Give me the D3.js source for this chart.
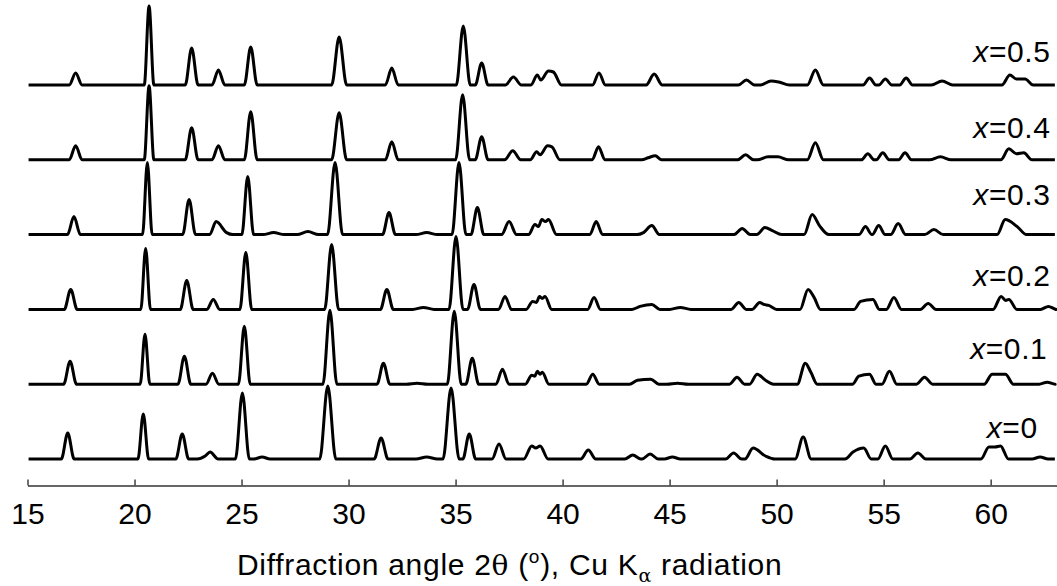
<!DOCTYPE html>
<html>
<head>
<meta charset="utf-8">
<script src="https://cdnjs.cloudflare.com/ajax/libs/d3/7.8.5/d3.min.js"></script>
<style>
  body { margin: 0; background: #fff; }
  svg text { font-family: "Liberation Sans", Arial, sans-serif; fill: #000; }
</style>
</head>
<body>
<div id="chart"></div>
<script>
// XRD patterns, peaks: [2theta, intensity (a.u.), half base width (deg, optional)]
let sampleLabels = ["0", "0.1", "0.2", "0.3", "0.4", "0.5"];
let angleTicks = [15, 20, 25, 30, 35, 40, 45, 50, 55, 60];
let angleRange = [15.05, 63.0];

let peaksX00 = [[16.88,26,0.24],[20.41,45,0.2],[22.23,25,0.24],[23.3,3,0.3],[23.53,7,0.3],[25.04,66,0.26],[25.96,2,0.3],
  [29.03,73,0.3],[31.52,21,0.26],[33.65,2,0.4],[34.79,71,0.3],[35.64,25,0.24],[37.03,15,0.26],[38.56,13,0.3],[38.75,11],
  [38.95,13,0.3],[41.2,9,0.28],[43.28,4,0.3],[44.09,5,0.3],[45.13,2,0.3],[47.99,6,0.3],[48.9,11,0.3],[49.48,3,0.35],
  [51.24,22,0.3],[53.57,7,0.3],[54.07,11,0.28],[55.08,13,0.28],[56.6,6,0.3],[59.92,12,0.3],[60.2,12],[60.46,13,0.3],[62.31,2,0.3]];
let peaksX01 = [[16.99,23],[20.49,50,0.18],[22.33,28],[23.64,11],[25.13,58,0.22],[29.13,74,0.26],[31.63,21],[33.2,1,0.4],
  [34.94,73,0.26],[35.78,26],[37.19,15],[38.56,9],[38.7,8],[38.82,13],[38.95,10],[39.05,12,0.25],[41.41,10],[43.5,4,0.3],
  [44.12,5,0.3],[45.37,1,0.4],[48.15,7,0.28],[49.09,10,0.28],[49.48,4,0.3],[51.34,21,0.3],[51.6,12],[53.84,8],[54.34,10],
  [55.27,13,0.28],[56.91,7,0.3],[60.07,10,0.3],[60.4,10],[60.69,10,0.3],[62.64,2,0.3]];
let peaksX02 = [[17.02,20],[20.52,61,0.18],[22.44,29],[23.68,10],[25.2,57,0.22],[29.21,65,0.26],[31.79,20],[33.5,2,0.4],
  [35.02,73,0.26],[35.86,25],[37.31,13],[38.6,8],[38.78,7],[38.92,13],[39.05,11],[39.18,13,0.25],[41.47,12],[43.62,3,0.3],
  [44.17,5,0.3],[45.5,2,0.4],[48.23,7,0.28],[49.21,7,0.28],[49.4,5],[49.63,4,0.3],[51.47,20,0.3],[51.75,12],[53.92,8],
  [54.5,10],[55.48,12,0.28],[57.08,6,0.3],[60.49,13,0.3],[60.7,9],[60.85,10,0.3],[62.7,3,0.3]];
let peaksX03 = [[17.17,18],[20.6,72,0.18],[22.55,35],[23.81,13],[24.3,2],[25.29,58,0.22],[26.5,2,0.4],[28.1,3,0.4],
  [29.37,72,0.28],[31.89,22],[33.65,2,0.4],[35.16,72,0.26],[36.02,27],[37.5,13,0.28],[38.71,10],[38.87,8],[39.03,15],
  [39.2,13],[39.34,15,0.3],[41.57,13],[43.78,2],[44.17,9,0.28],[48.39,6,0.3],[49.45,7,0.3],[49.8,4,0.35],[51.66,20,0.3],
  [52.0,9,0.35],[54.15,8],[54.77,9],[55.68,11,0.28],[57.35,5,0.35],[60.68,15,0.3],[61.24,8,0.35]];
let peaksX04 = [[17.25,14],[20.68,74,0.18],[22.67,32],[23.92,14],[25.43,48],[29.56,47,0.28],[32.02,18],[35.33,65,0.26],
  [36.22,23],[37.67,9,0.3],[38.79,8],[38.95,5],[39.3,14],[39.5,13,0.3],[41.68,13],[44.0,2],[44.33,4],[48.55,5,0.3],
  [49.6,3,0.4],[50.06,3,0.4],[51.81,17,0.3],[54.26,6],[54.96,7],[56.0,7],[57.65,3,0.4],[60.85,11,0.3],[61.2,6],[61.55,7,0.3]];
let peaksX05 = [[17.25,12],[20.68,79,0.18],[22.67,37],[23.92,15],[25.43,38],[29.56,48,0.28],[32.02,17],[35.36,59,0.26],
  [36.22,22],[37.70,8,0.3],[38.82,10],[38.98,5],[39.34,14],[39.57,13,0.3],[41.70,12],[44.28,11,0.3],[48.59,5,0.3],
  [49.74,4,0.4],[50.1,3,0.4],[51.81,15,0.3],[54.34,7],[55.08,6],[56.05,7],[57.73,4,0.4],[60.90,10,0.3],[61.2,6],[61.61,6,0.3]];

let patterns = [peaksX00, peaksX01, peaksX02, peaksX03, peaksX04, peaksX05];

// layout
let svgWidth = 1057;
let svgHeight = 586;
let baseY = 459;        // baseline of the bottom pattern
let stackStep = 74.8;   // vertical offset between patterns (a.u.)
let defaultHalfWidth = 0.24;
let widthScale = 1.25;  // visual widening of the peak feet

let svg = d3.select("#chart")
  .append("svg")
  .attr("width", svgWidth)
  .attr("height", svgHeight);

let xScale = d3.scaleLinear().domain([15, 63.1]).range([27.5, 1057]);
let yScale = d3.scaleLinear().domain([0, 100]).range([baseY, baseY - 100]);

function halfW(p) { return (p[2] || defaultHalfWidth) * widthScale; }

// turn a peak list into line vertices: flat baseline, foot, apex, foot
function buildPoints(peaks, offset) {
  let pts = [[angleRange[0], 0]];
  peaks.forEach(function(p, i) {
    let w = halfW(p);
    let prev = peaks[i - 1];
    if (!prev) {
      pts.push([p[0] - w, 0]);
    } else {
      let pw = halfW(prev);
      if (p[0] - w > prev[0] + pw) {
        pts.push([prev[0] + pw, 0]);
        pts.push([p[0] - w, 0]);
      }
    }
    pts.push([p[0], p[1]]);
  });
  let last = peaks[peaks.length - 1];
  pts.push([last[0] + halfW(last), 0]);
  pts.push([angleRange[1], 0]);
  return pts.map(d => [d[0], d[1] + offset]);
}

let line = d3.line()
  .x(d => xScale(d[0]))
  .y(d => yScale(d[1]))
  .curve(d3.curveMonotoneX);

svg.append("g")
  .selectAll("path")
  .data(patterns)
  .enter()
  .append("path")
  .attr("d", (d, i) => line(buildPoints(d, i * stackStep)))
  .attr("fill", "none")
  .attr("stroke", "#000")
  .attr("stroke-width", 3)
  .attr("stroke-linejoin", "round");

// sample labels
let labelAnchor = [62.2, 62.65, 62.8, 62.8, 62.8, 62.8];
let labelLift = [21, 25, 23, 30, 22, 23];
let labels = svg.append("g")
  .selectAll("text")
  .data(sampleLabels)
  .enter()
  .append("text")
  .attr("x", (d, i) => xScale(labelAnchor[i]))
  .attr("y", (d, i) => yScale(i * stackStep) - labelLift[i])
  .attr("text-anchor", "end")
  .style("font-size", "30px")
  .style("letter-spacing", "0.6px");
labels.append("tspan").style("font-style", "italic").text("x");
labels.append("tspan").text(d => "=" + d);

// x axis
let axisY = 485.5;
let xAxis = d3.axisBottom(xScale)
  .tickValues(angleTicks)
  .tickSizeInner(-6)
  .tickSizeOuter(0)
  .tickPadding(17);

let axisG = svg.append("g")
  .attr("transform", `translate(0, ${axisY})`)
  .call(xAxis);
axisG.select(".domain").attr("stroke", "#333").attr("stroke-width", 1.4);
axisG.selectAll(".tick line").attr("stroke", "#333").attr("stroke-width", 1.4);
axisG.selectAll(".tick text")
  .style("font-family", "'Liberation Sans', Arial, sans-serif")
  .style("font-size", "30px")
  .attr("fill", "#000");

// axis title
let title = svg.append("text")
  .attr("x", 237)
  .attr("y", 575)
  .style("font-size", "30px")
  .style("letter-spacing", "0.7px");
title.append("tspan").text("Diffraction angle 2");
title.append("tspan").style("font-family", "'DejaVu Serif', 'Liberation Serif', serif").style("font-size", "28px").text("θ");
title.append("tspan").text(" (");
title.append("tspan").attr("dy", -12).style("font-size", "19px").text("o");
title.append("tspan").attr("dy", 12).text("), Cu K");
title.append("tspan").attr("dy", 7).style("font-family", "'DejaVu Serif', 'Liberation Serif', serif").style("font-size", "19px").text("α");
title.append("tspan").attr("dy", -7).text(" radiation");
</script>
</body>
</html>
